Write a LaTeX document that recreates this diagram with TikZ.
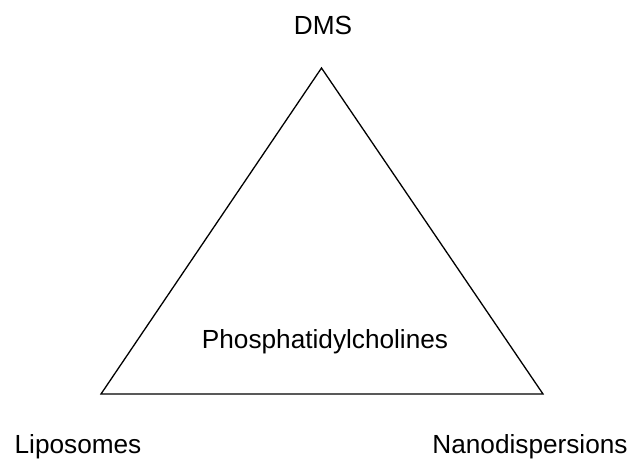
\documentclass[tikz,border=0pt]{standalone}
\usepackage{fontspec}
\setmainfont{Liberation Sans}
\begin{document}
\begin{tikzpicture}[x=1pt,y=-1pt,
  lbl/.style={inner sep=0pt,anchor=base,font=\fontsize{26.2}{30}\selectfont},
  edge/.style={draw=black,line width=1.3pt,line join=miter}]
\useasboundingbox (0,0) rectangle (632,460);
\coordinate (top) at (321.5,68);
\coordinate (bl) at (101,394);
\coordinate (br) at (543,394);
\draw[edge] (top) -- (bl) -- (br) -- cycle;
\node[lbl] (dms) at (323,35) {DMS};
\node[lbl] (pc) at (325,348) {Phosphatidylcholines};
\node[lbl] (lip) at (78,453) {Liposomes};
\node[lbl] (nano) at (530,453) {Nanodispersions};
\end{tikzpicture}
\end{document}
